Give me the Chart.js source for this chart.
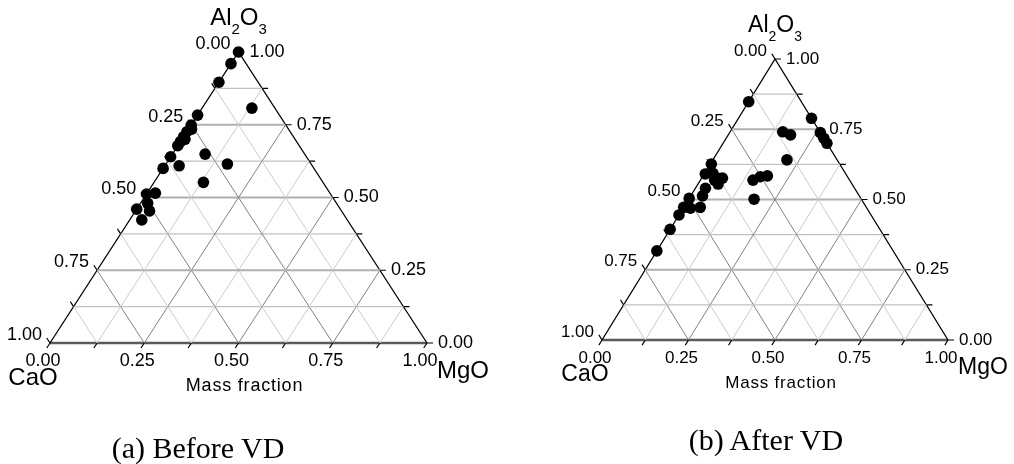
<!DOCTYPE html>
<html>
<head>
<meta charset="utf-8">
<script src="https://cdn.jsdelivr.net/npm/chart.js@4.4.1/dist/chart.umd.min.js"></script>
<style>
  html, body { margin: 0; padding: 0; background: #fff; }
  #page { position: relative; width: 1014px; height: 464px; overflow: hidden; }
  .panel { position: absolute; top: 0; width: 507px; height: 464px; }
  .caption {
    position: absolute;
    font-family: "Liberation Serif", "Times New Roman", serif;
    font-size: 30px;
    color: #000;
    white-space: nowrap;
    transform: translate(-50%, -50%);
  }
</style>
</head>
<body>
<div id="page">
  <div class="panel" style="left:0"><canvas id="chart-before"></canvas></div>
  <div class="panel" style="left:507px"><canvas id="chart-after"></canvas></div>
  <div class="caption" style="left:198px;top:448px">(a) Before VD</div>
  <div class="caption" style="left:766px;top:440px">(b) After VD</div>
</div>
<script>
// Diagramme ternaire CaO - MgO - Al2O3 (fractions massiques)
const tickValues = [0, 0.125, 0.25, 0.375, 0.5, 0.625, 0.75, 0.875, 1];
const labelValues = [0, 0.25, 0.5, 0.75, 1];
const tickLabels = ["0.00", "0.25", "0.50", "0.75", "1.00"];
const gridLevels = [0.125, 0.25, 0.375, 0.5, 0.625, 0.75, 0.875];

// (a) Before VD : Al2O3 et MgO, CaO = reste
const beforeAl2O3 = [1.0, 0.96, 0.896, 0.807, 0.783, 0.749, 0.735, 0.726, 0.709, 0.7, 0.692, 0.678,
  0.64, 0.649, 0.6, 0.609, 0.615, 0.552, 0.512, 0.515, 0.48, 0.46, 0.454, 0.423];
const beforeMgO = [0, 0, 0, 0.132, 0, 0, 0.008, 0, 0, 0.008, 0, 0,
  0, 0.087, 0, 0.038, 0.163, 0.131, 0, 0.022, 0.019, 0, 0.037, 0.032];

// (b) After VD
const afterAl2O3 = [0.848, 0.789, 0.741, 0.73, 0.738, 0.718, 0.7, 0.641, 0.626, 0.591, 0.593, 0.576,
  0.576, 0.569, 0.555, 0.584, 0.581, 0.569, 0.501, 0.54, 0.513, 0.504, 0.472, 0.469, 0.472, 0.445,
  0.394, 0.317];
const afterMgO = [0, 0.211, 0.152, 0.18, 0.262, 0.282, 0.3, 0.214, 0.003, 0.003, 0.024, 0.045,
  0.06, 0.041, 0.058, 0.186, 0.167, 0.152, 0.189, 0.029, 0.034, 0, 0, 0.021, 0.048, 0,
  0, 0];

const FONT = '"Liberation Sans", Arial, sans-serif';

function toXY(mgo, al) {
  return { x: mgo + al / 2, y: al };
}

function segment(points, color, width) {
  return {
    data: points,
    showLine: true,
    borderColor: color,
    borderWidth: width,
    pointRadius: 0,
    tension: 0,
    clip: false,
  };
}

function gridDatasets() {
  const sets = [];
  gridLevels.forEach((v, i) => {
    const major = i % 2 === 1;
    // Al2O3 constant (horizontales)
    sets.push(segment([toXY(0, v), toXY(1 - v, v)], major ? "#b0b0b0" : "#c2c2c2", major ? 1.8 : 1.1));
    // MgO constant
    sets.push(segment([toXY(v, 0), toXY(v, 1 - v)], major ? "#828282" : "#cbcbcb", 1));
    // CaO constant
    sets.push(segment([toXY(0, 1 - v), toXY(1 - v, 0)], major ? "#828282" : "#cbcbcb", 1));
  });
  sets.push(segment([toXY(0, 0), toXY(0, 1), toXY(1, 0)], "#000", 1.3));
  sets.push(segment([toXY(0, 0), toXY(1, 0)], "#5a5a5a", 2.6));
  return sets;
}

function pix(chart, mgo, al) {
  const p = toXY(mgo, al);
  return { x: chart.scales.x.getPixelForValue(p.x), y: chart.scales.y.getPixelForValue(p.y) };
}

function unitDir(chart, dm, da) {
  const a = pix(chart, 0, 0);
  const b = pix(chart, dm, da);
  const len = Math.hypot(b.x - a.x, b.y - a.y);
  return { x: (b.x - a.x) / len, y: (b.y - a.y) / len };
}

function drawAl2O3(ctx, cx, baseline, size) {
  const small = Math.round(size * 0.62);
  const parts = [
    { t: "Al", s: size, dy: 0 },
    { t: "2", s: small, dy: size * 0.38 },
    { t: "O", s: size, dy: 0 },
    { t: "3", s: small, dy: size * 0.38 },
  ];
  let total = 0;
  parts.forEach((p) => {
    ctx.font = `${p.s}px ${FONT}`;
    p.w = ctx.measureText(p.t).width;
    total += p.w;
  });
  let x = cx - total / 2;
  ctx.textAlign = "left";
  ctx.textBaseline = "alphabetic";
  parts.forEach((p) => {
    ctx.font = `${p.s}px ${FONT}`;
    ctx.fillText(p.t, x, baseline + p.dy);
    x += p.w;
  });
}

const ternaryDecor = {
  id: "ternaryDecor",
  afterDraw(chart, args, opts) {
    const ctx = chart.ctx;
    const tickLen = 6;
    const dLeft = unitDir(chart, -1, 1);
    const dRight = unitDir(chart, 1, 0);
    const dBottom = unitDir(chart, 0, -1);
    ctx.save();
    ctx.strokeStyle = "#000";
    ctx.lineWidth = 1.2;
    tickValues.forEach((v) => {
      const l = pix(chart, 0, 1 - v);
      const r = pix(chart, 1 - v, v);
      const b = pix(chart, v, 0);
      ctx.beginPath();
      ctx.moveTo(l.x, l.y);
      ctx.lineTo(l.x + dLeft.x * tickLen, l.y + dLeft.y * tickLen);
      ctx.moveTo(r.x, r.y);
      ctx.lineTo(r.x + dRight.x * tickLen, r.y + dRight.y * tickLen);
      ctx.moveTo(b.x, b.y);
      ctx.lineTo(b.x + dBottom.x * tickLen, b.y + dBottom.y * tickLen);
      ctx.stroke();
    });

    ctx.fillStyle = "#000";
    ctx.font = `${opts.tickFont}px ${FONT}`;
    ctx.textBaseline = "middle";
    labelValues.forEach((v, i) => {
      const text = tickLabels[i];
      const l = pix(chart, 0, 1 - v); // CaO
      ctx.textAlign = "right";
      ctx.fillText(text, l.x - 8, l.y - 8);
      const r = pix(chart, 1 - v, v); // Al2O3
      ctx.textAlign = "left";
      ctx.fillText(text, r.x + 11, r.y);
      const b = pix(chart, v, 0); // MgO
      ctx.textAlign = "center";
      ctx.fillText(text, b.x - 7, b.y + 18);
    });

    const apex = pix(chart, 0, 1);
    const cao = pix(chart, 0, 0);
    const mgo = pix(chart, 1, 0);
    drawAl2O3(ctx, apex.x, apex.y - 27, opts.nameFont);
    ctx.font = `${opts.nameFont}px ${FONT}`;
    ctx.textBaseline = "middle";
    ctx.textAlign = "center";
    ctx.fillText("CaO", cao.x - 17, cao.y + 35);
    ctx.textAlign = "left";
    ctx.fillText("MgO", mgo.x + 10, mgo.y + 28);
    ctx.font = `${opts.tickFont}px ${FONT}`;
    ctx.letterSpacing = "0.8px";
    ctx.textAlign = "center";
    ctx.fillText("Mass fraction", (cao.x + mgo.x) / 2 + 6, cao.y + 43);
    ctx.restore();
  },
};

function makeTernary(canvasId, al, mgo, padding, fonts) {
  const points = {
    data: al.map((a, i) => toXY(mgo[i], a)),
    pointRadius: 5.8,
    pointBackgroundColor: "#000",
    pointBorderWidth: 0,
    showLine: false,
    clip: false,
  };
  return new Chart(document.getElementById(canvasId), {
    type: "scatter",
    data: { datasets: [points, ...gridDatasets()] },
    options: {
      responsive: true,
      maintainAspectRatio: false,
      animation: false,
      events: [],
      layout: { padding },
      scales: {
        x: { type: "linear", min: 0, max: 1, display: false },
        y: { type: "linear", min: 0, max: 1, display: false },
      },
      plugins: {
        legend: { display: false },
        tooltip: { enabled: false },
        ternaryDecor: fonts,
      },
    },
    plugins: [ternaryDecor],
  });
}

makeTernary("chart-before", beforeAl2O3, beforeMgO,
  { left: 50, right: 80, top: 52, bottom: 121 }, { tickFont: 18, nameFont: 24 });
makeTernary("chart-after", afterAl2O3, afterMgO,
  { left: 95, right: 66, top: 59, bottom: 124 }, { tickFont: 17, nameFont: 23 });
</script>
</body>
</html>
